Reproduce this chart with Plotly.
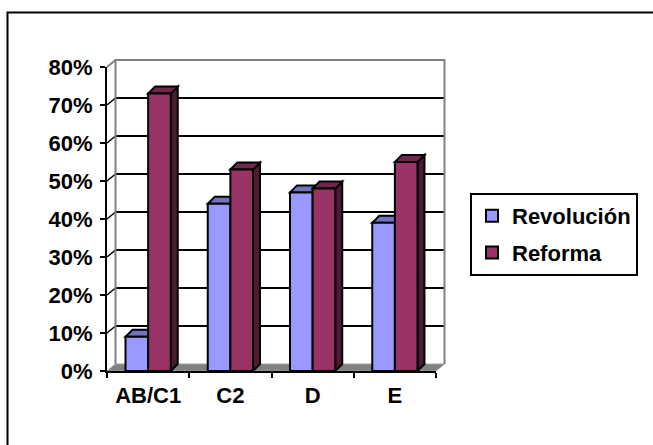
import plotly.graph_objects as go

# ---- data -------------------------------------------------------------
categories = ["AB/C1", "C2", "D", "E"]
revolucion = [0.09, 0.44, 0.47, 0.39]
reforma = [0.73, 0.53, 0.48, 0.55]
series_names = ["Revolución", "Reforma"]
y_tick_values = [0.0, 0.1, 0.2, 0.3, 0.4, 0.5, 0.6, 0.7, 0.8]
y_tick_labels = ["0%", "10%", "20%", "30%", "40%", "50%", "60%", "70%", "80%"]

# ---- styling / geometry -------------------------------------------------
W, H = 653, 445
PL, PR, PT, PB = 107, 436, 67, 371          # front plane of the plot, px
YMAX = 0.8
BARGAP = 0.45
BAR_DX, BAR_DY = 7, 7                      # bar depth (px)
WALL_DX, WALL_DY = 8.5, 7                  # wall depth (px)
FONT = "Arial, 'Liberation Sans', sans-serif"

front_colors = ["#9999FF", "#993366"]
top_colors = ["#7373C0", "#73264D"]
side_colors = ["#4D4D80", "#4D1A33"]

x_per_px = len(categories) / (PR - PL)
y_per_px = YMAX / (PB - PT)
bdx, bdy = BAR_DX * x_per_px, BAR_DY * y_per_px


def xp(px):
    return (px - PL) / (PR - PL)


def yp(px):
    return (PB - px) / (PB - PT)


wdx = WALL_DX / (PR - PL)          # wall offset in paper units
wdy = WALL_DY / (PB - PT)

shapes = []
WALL_GREY = "#808080"

# floor slab
shapes.append(dict(type="path", xref="paper", yref="paper", layer="below",
                   path=f"M0,0 L1,0 L{1 + wdx},{wdy} L{wdx},{wdy} Z",
                   fillcolor=WALL_GREY, line=dict(color="#A0A0A0", width=1)))

# gridlines on back wall and side wall
for v in y_tick_values[1:-1]:
    y0 = v / YMAX
    shapes.append(dict(type="line", xref="paper", yref="paper", layer="below",
                       x0=wdx, x1=1 + wdx, y0=y0 + wdy, y1=y0 + wdy,
                       line=dict(color="black", width=2)))
    shapes.append(dict(type="line", xref="paper", yref="paper", layer="below",
                       x0=0, x1=wdx, y0=y0, y1=y0 + wdy,
                       line=dict(color="black", width=1.5)))

# wall outline
shapes.append(dict(type="path", xref="paper", yref="paper", layer="below",
                   path=(f"M{wdx},{wdy} L{wdx},{1 + wdy} L{1 + wdx},{1 + wdy} "
                         f"L{1 + wdx},{wdy}"),
                   line=dict(color=WALL_GREY, width=2)))
shapes.append(dict(type="line", xref="paper", yref="paper", layer="below",
                   x0=0, x1=wdx, y0=1, y1=1 + wdy,
                   line=dict(color=WALL_GREY, width=2)))

# 3D faces (top and right side) of every bar
bar_w = (1 - BARGAP) / 2
series = [revolucion, reforma]
for i in range(len(categories)):
    for k, vals in enumerate(series):
        h = vals[i]
        x0 = i - bar_w + k * bar_w
        x1 = x0 + bar_w
        top = (f"M{x0},{h} L{x1},{h} L{x1 + bdx},{h + bdy} "
               f"L{x0 + bdx},{h + bdy} Z")
        side = (f"M{x1},0 L{x1},{h} L{x1 + bdx},{h + bdy} "
                f"L{x1 + bdx},{bdy} Z")
        shapes.append(dict(type="path", xref="x", yref="y", layer="below",
                           path=side, fillcolor=side_colors[k],
                           line=dict(color="black", width=2)))
        shapes.append(dict(type="path", xref="x", yref="y", layer="below",
                           path=top, fillcolor=top_colors[k],
                           line=dict(color="black", width=2)))

# outer chart frame
shapes.append(dict(type="rect", xref="paper", yref="paper", layer="below",
                   x0=xp(7.5), x1=xp(W + 20), y0=yp(H + 20), y1=yp(12.5),
                   line=dict(color="black", width=2)))

fig = go.Figure()
for k, name in enumerate(series_names):
    fig.add_trace(go.Bar(
        x=categories, y=series[k], name=name,
        marker=dict(color=front_colors[k], line=dict(color="black", width=2)),
        legendgroup=name,
    ))

fig.update_layout(
    width=W, height=H, autosize=False,
    margin=dict(l=PL, r=W - PR, t=PT, b=H - PB, pad=0),
    paper_bgcolor="white", plot_bgcolor="rgba(0,0,0,0)",
    barmode="group", bargap=BARGAP, bargroupgap=0,
    font=dict(family=FONT, size=22, color="black", weight="bold"),
    shapes=shapes,
    showlegend=True,
    legend=dict(x=xp(470), y=yp(193), xanchor="left", yanchor="top",
                bordercolor="black", borderwidth=2, bgcolor="white",
                font=dict(family=FONT, size=22, color="black", weight="bold"),
                tracegroupgap=5, traceorder="grouped"),
    xaxis=dict(range=[-0.5, len(categories) - 0.5], showline=True,
               linecolor="black", linewidth=2, ticks="outside",
               tickson="boundaries", ticklen=5, tickwidth=2,
               tickcolor="black", showgrid=False, zeroline=False,
               ticklabelstandoff=4),
    yaxis=dict(range=[0, YMAX], tickvals=y_tick_values, ticktext=y_tick_labels,
               showline=True, linecolor="black", linewidth=2,
               ticks="outside", ticklen=5, tickwidth=2, tickcolor="black",
               showgrid=False, zeroline=False, ticklabelstandoff=3),
)

fig.write_html("out.html")
